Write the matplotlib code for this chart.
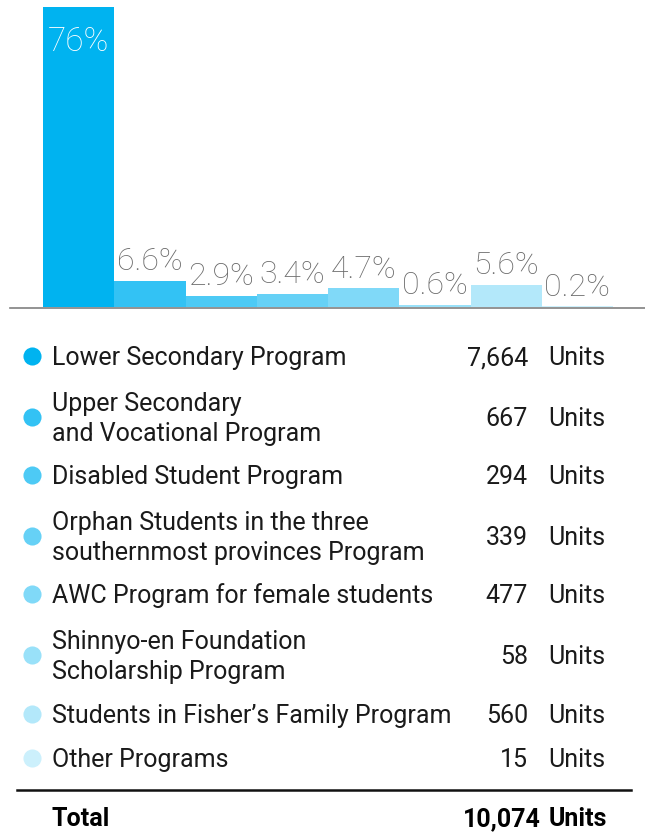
import matplotlib

matplotlib.use("Agg")
import matplotlib.pyplot as plt

plt.rcParams["font.family"] = ["Roboto", "DejaVu Sans"]

# Data
programs = [
    "Lower Secondary Program",
    "Upper Secondary\nand Vocational Program",
    "Disabled Student Program",
    "Orphan Students in the three\nsouthernmost provinces Program",
    "AWC Program for female students",
    "Shinnyo-en Foundation\nScholarship Program",
    "Students in Fisher\u2019s Family Program",
    "Other Programs",
]
units = [7664, 667, 294, 339, 477, 58, 560, 15]
shares = [76, 6.6, 2.9, 3.4, 4.7, 0.6, 5.6, 0.2]
share_labels = ["76%", "6.6%", "2.9%", "3.4%", "4.7%", "0.6%", "5.6%", "0.2%"]
total_label = "10,074"

colors = ["#00b3f0", "#33c2f4", "#4dcaf5", "#66d1f6",
          "#80d9f8", "#99e1f9", "#b3e8fa", "#ccf0fc"]
LABEL_GREY = "#6a6a6a"
INK = "#1a1a1a"

W, H = 645, 837
fig = plt.figure(figsize=(W / 100, H / 100), dpi=100)

# overlay in pixel coordinates (y down)
ov = fig.add_axes([0, 0, 1, 1])
ov.set_xlim(0, W)
ov.set_ylim(H, 0)
ov.axis("off")

# bar chart: baseline at y=308px, 76% reaches y=8px
ax = fig.add_axes([43 / W, (H - 308) / H, 570 / W, 300 / H])
ax.set_xlim(0, len(shares))
ax.set_ylim(0, 76)
ax.axis("off")
xs = list(range(len(shares)))
ax.bar(xs, shares, width=1.0, align="edge", color=colors, linewidth=0)
for i, (v, lab) in enumerate(zip(shares, share_labels)):
    if i == 0:
        ax.annotate(lab, (i + 0.5, v), xytext=(0, -13), textcoords="offset points",
                    ha="center", va="top", fontsize=24, color="white",
                    fontweight="light", annotation_clip=False)
    else:
        ax.annotate(lab, (i + 0.5, v), xytext=(0, 4), textcoords="offset points",
                    ha="center", va="bottom", fontsize=23, color=LABEL_GREY,
                    fontweight="light", annotation_clip=False)

ov.plot([10, 645], [308.5, 308.5], color="#808080", lw=1.2)

# legend table
row_y = [358, 419, 477, 538, 596, 657, 716, 760]
for y, name, n, c in zip(row_y, programs, units, colors):
    ov.scatter([32], [y - 1], s=170, color=c, linewidths=0)
    ov.text(52, y, name, ha="left", va="center", fontsize=18, color=INK,
            linespacing=1.3)
    ov.text(528, y, f"{n:,}", ha="right", va="center", fontsize=18, color=INK)
    ov.text(548, y, "Units", ha="left", va="center", fontsize=18, color=INK)

ov.plot([17, 631], [791, 791], color="#111111", lw=1.8)
ov.text(52, 819, "Total", ha="left", va="center", fontsize=18,
        fontweight="bold", color="#000000")
ov.text(541, 819, total_label, ha="right", va="center", fontsize=18,
        fontweight="bold", color="#000000")
ov.text(549, 819, "Units", ha="left", va="center", fontsize=18,
        fontweight="bold", color="#000000")

fig.savefig("out.png", dpi=100, facecolor="white")
